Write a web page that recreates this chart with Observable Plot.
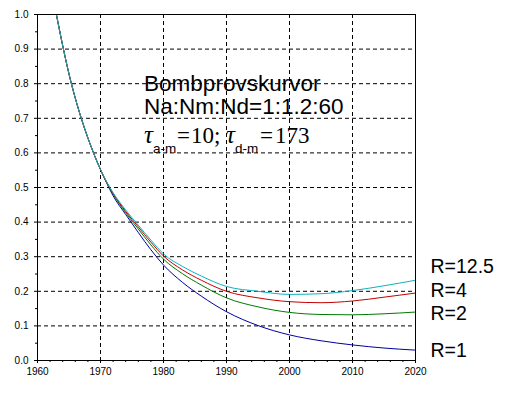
<!DOCTYPE html>
<html>
<head>
<meta charset="utf-8">
<script src="https://cdn.jsdelivr.net/npm/d3@7"></script>
<script src="https://cdn.jsdelivr.net/npm/@observablehq/plot@0.6"></script>
<style>
  body { margin: 0; background: white; }
</style>
</head>
<body>
<script>
// ---- data ----
const years = [1963, 1964, 1965, 1966, 1967, 1968, 1969, 1970, 1971, 1972, 1974, 1976, 1978, 1980, 1983, 1986, 1990, 1995, 2000, 2005, 2010, 2015, 2020];
const r1   = [1.0, 0.91, 0.828, 0.758, 0.697, 0.643, 0.595, 0.551, 0.512, 0.476, 0.422, 0.37, 0.32, 0.276, 0.226, 0.186, 0.141, 0.101, 0.074, 0.057, 0.045, 0.036, 0.03];
const r2   = [1.0, 0.91, 0.828, 0.758, 0.697, 0.643, 0.595, 0.552, 0.514, 0.481, 0.427, 0.38, 0.334, 0.293, 0.251, 0.218, 0.181, 0.155, 0.139, 0.133, 0.132, 0.135, 0.14];
const r4   = [1.0, 0.91, 0.828, 0.758, 0.697, 0.643, 0.595, 0.552, 0.515, 0.483, 0.431, 0.386, 0.342, 0.302, 0.262, 0.232, 0.2, 0.181, 0.17, 0.167, 0.172, 0.183, 0.195];
const r125 = [1.0, 0.91, 0.828, 0.758, 0.697, 0.643, 0.595, 0.552, 0.516, 0.485, 0.435, 0.391, 0.348, 0.308, 0.272, 0.244, 0.214, 0.2, 0.191, 0.193, 0.202, 0.216, 0.232];
const seriesNames = ["R=1", "R=2", "R=4", "R=12.5"];
const xTicks = [1960, 1970, 1980, 1990, 2000, 2010, 2020];
const yTicks = [0, 0.1, 0.2, 0.3, 0.4, 0.5, 0.6, 0.7, 0.8, 0.9, 1.0];
const titleLine1 = "Bombprovskurvor";
const titleLine2 = "Na:Nm:Nd=1:1.2:60";
const tauA = 10;
const tauD = 173;

// ---- build ----
const seriesValues = [r1, r2, r4, r125];
const rows = seriesNames.flatMap((s, i) => years.map((yr, j) => ({year: yr, value: seriesValues[i][j], series: s})));
const minorX = d3.range(1962, 2020, 2).filter(v => v % 10 !== 0);
const minorY = d3.range(0.05, 1, 0.1);
const colors = ["#0000a0", "#007a00", "#c40000", "#10b0c0"];
const nudges = [1, 2, -2, -13];
const sans = "'Liberation Sans', Arial, sans-serif";
const serif = "'Liberation Serif', 'Times New Roman', serif";

const chart = Plot.plot({
  width: 507,
  height: 397,
  marginLeft: 37,
  marginRight: 92,
  marginTop: 14,
  marginBottom: 37,
  x: {domain: [1960, 2020], label: null},
  y: {domain: [0, 1], label: null},
  color: {domain: seriesNames, range: colors},
  style: {fontFamily: sans, fontSize: "10px", color: "black", background: "white"},
  marks: [
    Plot.gridX(xTicks.slice(1, -1), {stroke: "black", strokeOpacity: 1, strokeDasharray: "4,3"}),
    Plot.gridY(yTicks.slice(1, -1), {stroke: "black", strokeOpacity: 1, strokeDasharray: "4,3"}),
    Plot.line(rows, {x: "year", y: "value", z: "series", stroke: "series", strokeWidth: 1, curve: "monotone-x", clip: true}),
    Plot.axisX(xTicks, {tickSize: 3, tickPadding: 4, tickFormat: "d", label: null}),
    Plot.axisX(minorX, {tickSize: 2, text: null, label: null}),
    Plot.axisY(yTicks, {tickSize: 3, tickPadding: 6, tickFormat: d => d.toFixed(1), label: null}),
    Plot.axisY(minorY, {tickSize: 2, text: null, label: null}),
    Plot.frame({stroke: "black"}),
    ...seriesNames.map((s, i) => Plot.text([{year: 2020, value: seriesValues[i][seriesValues[i].length - 1], series: s}], {
      x: "year", y: "value", text: "series", textAnchor: "start", dx: 15, dy: nudges[i],
      fontSize: 19.5, fill: "black"
    }))
  ]
});
document.body.appendChild(chart);

// ---- annotation block ----
const sx = chart.scale("x"), sy = chart.scale("y");
const x0 = sx.apply(1977);
const svg = d3.select(chart);
const g = svg.append("g").attr("fill", "black").attr("text-anchor", "start");
g.append("text").attr("x", x0).attr("y", sy.apply(0.777))
  .attr("font-family", sans).attr("font-size", 22.5).text(titleLine1);
g.append("text").attr("x", x0).attr("y", sy.apply(0.711))
  .attr("font-family", sans).attr("font-size", 22.5).text(titleLine2);
const y3 = sy.apply(0.628);
const t3 = g.append("text").attr("y", y3).attr("font-family", serif).attr("font-size", 23);
const parts = [
  {t: "τ", dx: 0, font: serif, size: 25, style: "italic", sub: false},
  {t: "a-m", dx: 9, font: sans, size: 13.5, style: "normal", sub: true},
  {t: "=", dx: 33, font: serif, size: 23, style: "normal", sub: false},
  {t: tauA + ";", dx: 47, font: serif, size: 23, style: "normal", sub: false},
  {t: "τ", dx: 82, font: serif, size: 25, style: "italic", sub: false},
  {t: "d-m", dx: 91, font: sans, size: 13.5, style: "normal", sub: true},
  {t: "=", dx: 116, font: serif, size: 23, style: "normal", sub: false},
  {t: String(tauD), dx: 131, font: serif, size: 23, style: "normal", sub: false}
];
for (const p of parts) {
  t3.append("tspan").attr("x", x0 + p.dx).attr("y", p.sub ? y3 + 10 : y3)
    .attr("font-family", p.font).attr("font-size", p.size).attr("font-style", p.style).text(p.t);
}
</script>
</body>
</html>
